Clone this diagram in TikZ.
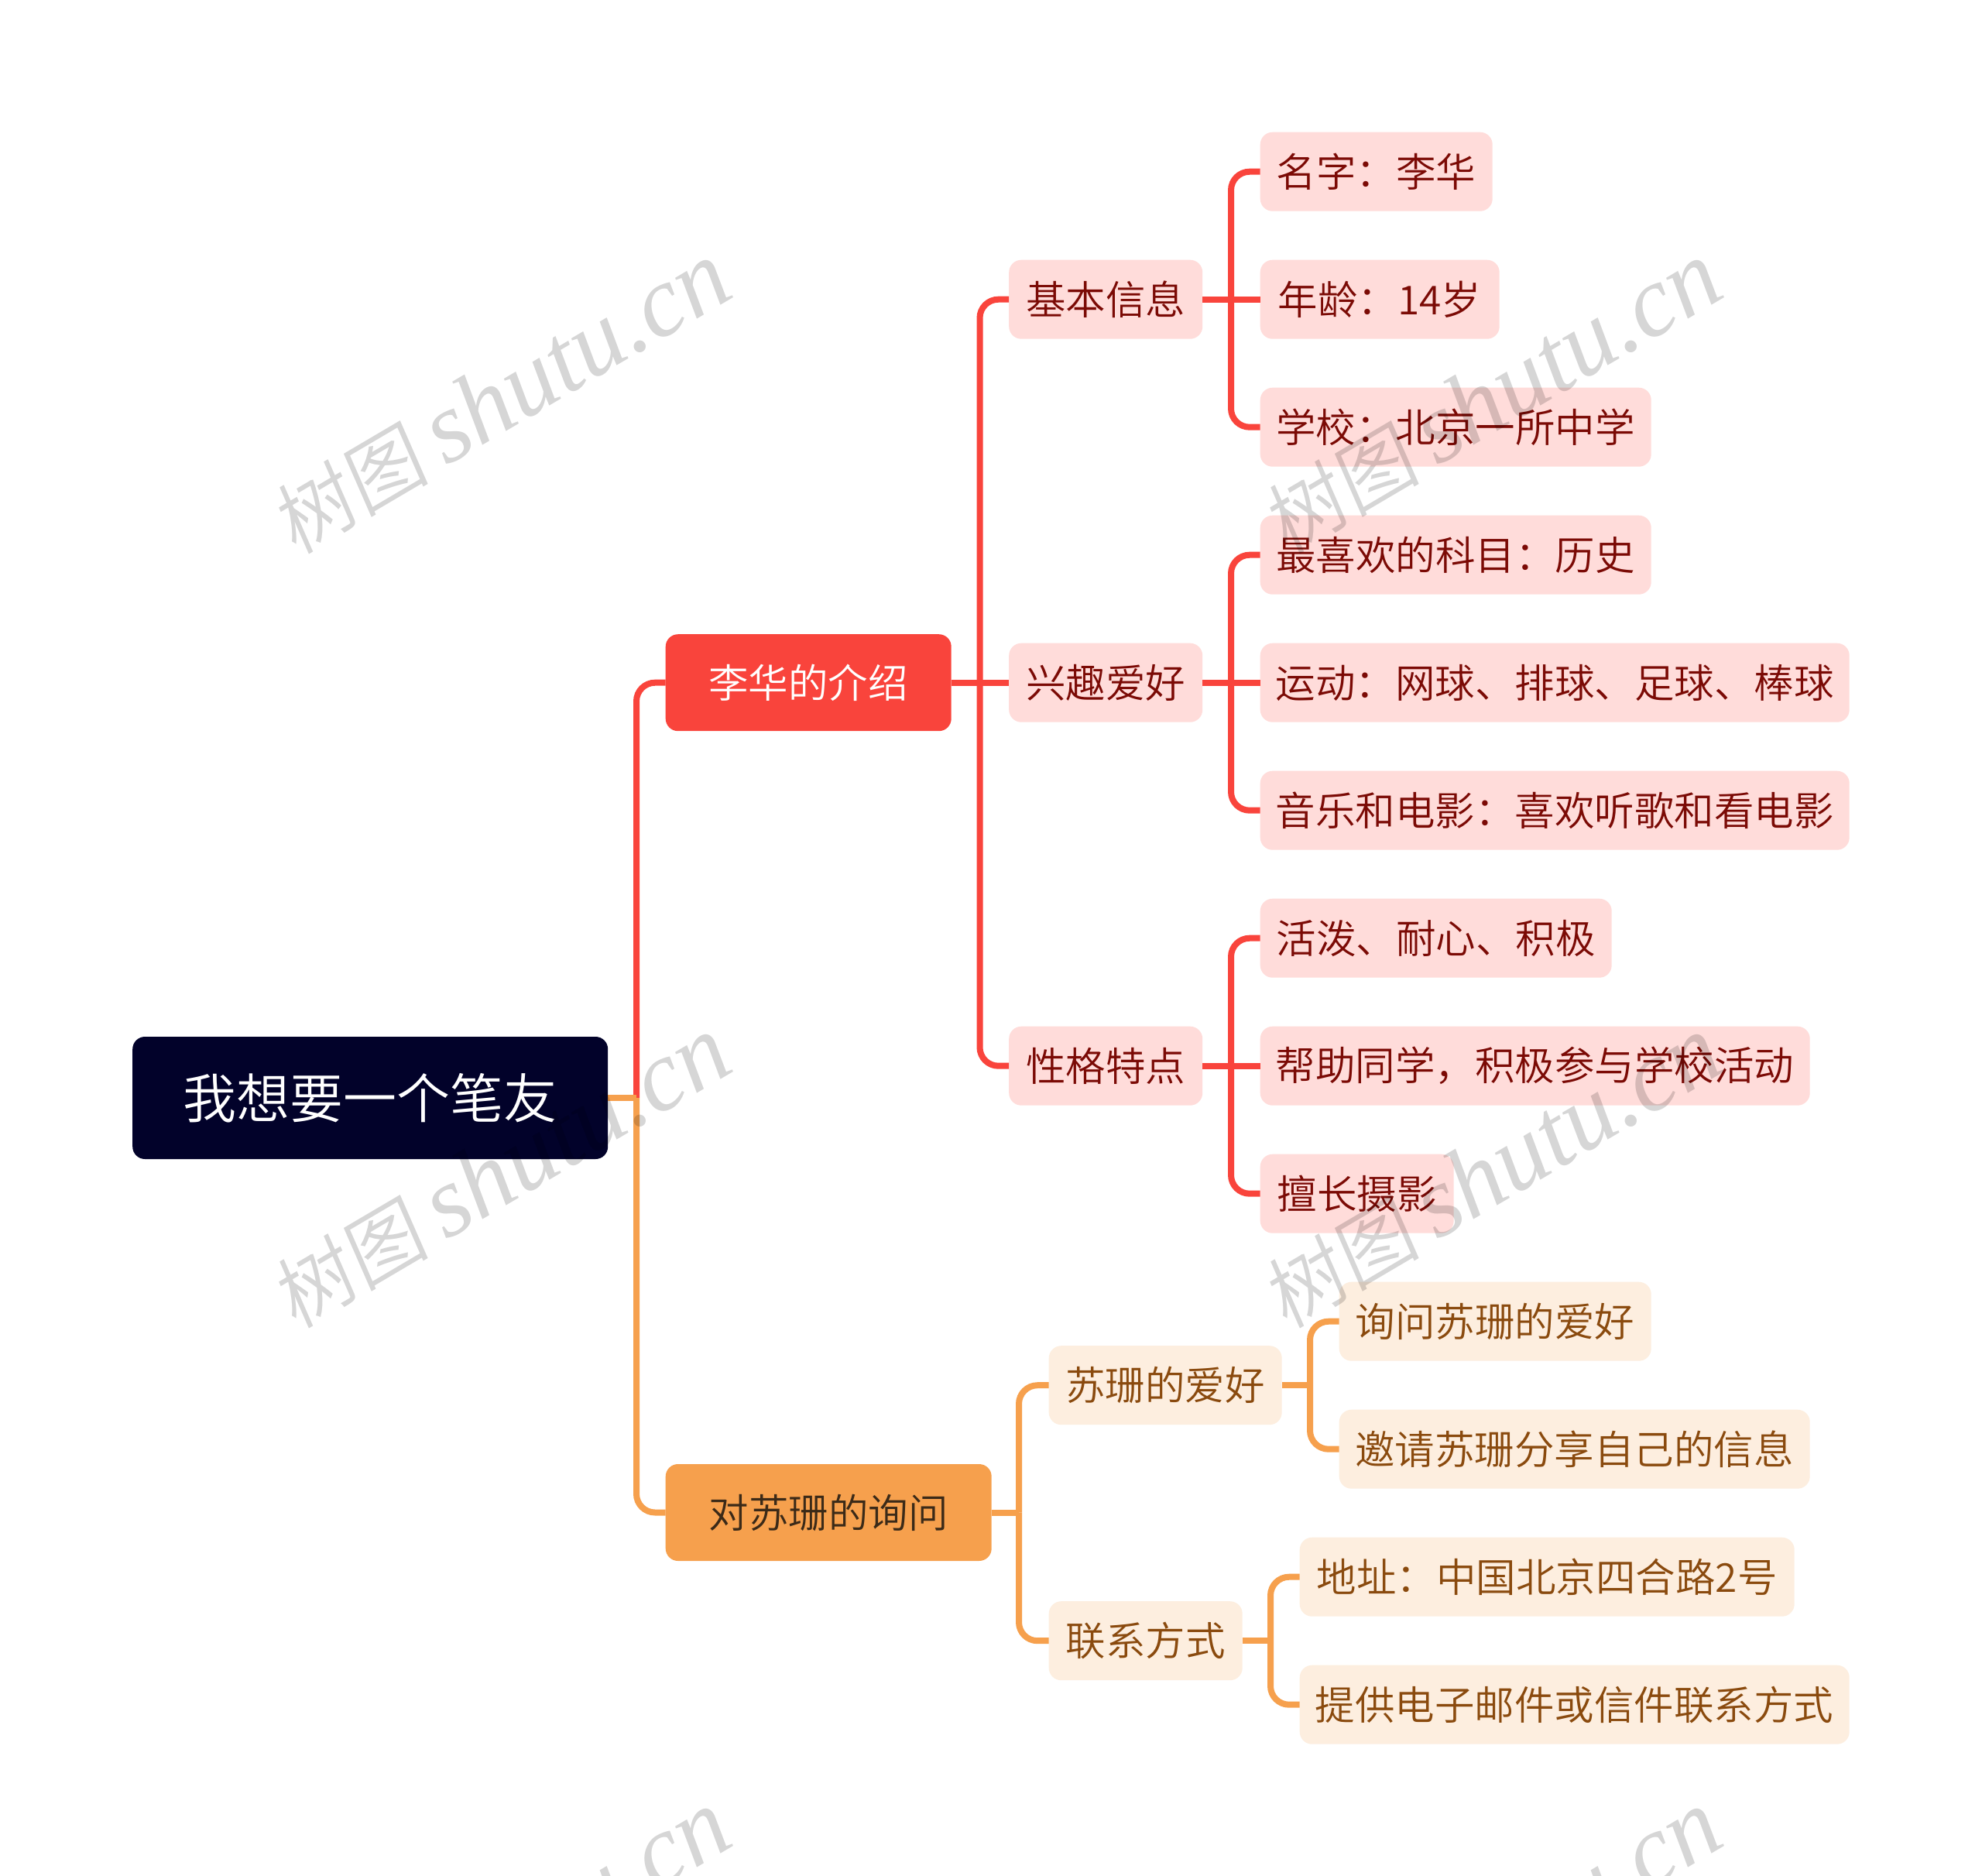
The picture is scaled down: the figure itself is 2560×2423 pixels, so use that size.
\documentclass[tikz,border=0pt]{standalone}
\usepackage{fontspec}
\setmainfont{Noto Sans CJK SC DemiLight}
\newfontfamily\wmcjk[FakeSlant=0.12]{Noto Sans CJK SC DemiLight}
\newfontfamily\wmlat{Liberation Serif Italic}
\definecolor{rootfill}{HTML}{02022A}
\definecolor{redline}{HTML}{F9443C}
\definecolor{redlight}{HTML}{FFDCDA}
\definecolor{redtext}{HTML}{7B0A05}
\definecolor{orline}{HTML}{F6A04D}
\definecolor{orlight}{HTML}{FDEEDF}
\definecolor{ortext}{HTML}{8A4A0E}
\definecolor{ordark}{HTML}{3B2A18}
\tikzset{
  box/.style={anchor=west,inner sep=0pt,rounded corners=16pt,align=center,font=\fontsize{51.5}{56}\selectfont},
  rootbox/.style={box,fill=rootfill,text=white,minimum height=158pt,font=\fontsize{69}{74}\selectfont},
  redmain/.style={box,fill=redline,text=white,minimum height=125pt},
  ormain/.style={box,fill=orline,text=ordark,minimum height=125pt},
  redsub/.style={box,fill=redlight,text=redtext,minimum height=102pt},
  orsub/.style={box,fill=orlight,text=ortext,minimum height=102pt},
  redlink/.style={draw=redline,line width=8pt,rounded corners=24pt},
  orlink/.style={draw=orline,line width=8pt,rounded corners=24pt},
  wmark/.style={rotate=30.5,text=black,text opacity=.16,inner sep=0pt}
}
\begin{document}
\begin{tikzpicture}[x=1pt,y=-1pt]
\useasboundingbox[fill=white] (0,0) rectangle (2560,2423);
% nodes
\node[rootbox,minimum width=614pt] (root) at (171,1418) {我想要一个笔友};
\node[redmain,minimum width=369pt] (a) at (859.5,881.7) {李华的介绍};
\node[ormain,minimum width=421pt] (b) at (859.5,1953.5) {对苏珊的询问};
\node[redsub,minimum width=250pt] (a1) at (1303,386.7) {基本信息};
\node[redsub,minimum width=250pt] (a2) at (1303,881.7) {兴趣爱好};
\node[redsub,minimum width=250pt] (a3) at (1303,1376.7) {性格特点};
\node[orsub,minimum width=301pt] (b1) at (1354.5,1789.2) {苏珊的爱好};
\node[orsub,minimum width=250pt] (b2) at (1354.5,2119.2) {联系方式};
\node[redsub,minimum width=300pt] (c1) at (1627.5,221.7) {名字：李华};
\node[redsub,minimum width=309pt] (c2) at (1627.5,386.7) {年龄：14岁};
\node[redsub,minimum width=505pt] (c3) at (1627.5,551.7) {学校：北京一所中学};
\node[redsub,minimum width=505pt] (c4) at (1627.5,716.7) {最喜欢的科目：历史};
\node[redsub,minimum width=761pt] (c5) at (1627.5,881.7) {运动：网球、排球、足球、棒球};
\node[redsub,minimum width=761pt] (c6) at (1627.5,1046.7) {音乐和电影：喜欢听歌和看电影};
\node[redsub,minimum width=454pt] (c7) at (1627.5,1211.7) {活泼、耐心、积极};
\node[redsub,minimum width=710pt] (c8) at (1627.5,1376.7) {帮助同学，积极参与学校活动};
\node[redsub,minimum width=250pt] (c9) at (1627.5,1541.7) {擅长摄影};
\node[orsub,minimum width=403pt] (d1) at (1729.5,1706.7) {询问苏珊的爱好};
\node[orsub,minimum width=608pt] (d2) at (1729.5,1871.7) {邀请苏珊分享自己的信息};
\node[orsub,minimum width=639pt] (d3) at (1678.5,2036.7) {地址：中国北京四合路2号};
\node[orsub,minimum width=710pt] (d4) at (1678.5,2201.7) {提供电子邮件或信件联系方式};
% junctions
\coordinate (t0) at (822,1418);
\coordinate (ta) at (1265.5,881.7);
\coordinate (tb) at (1316,1953.5);
\coordinate (ta1) at (1590,386.7);
\coordinate (ta2) at (1590,881.7);
\coordinate (ta3) at (1590,1376.7);
\coordinate (tb1) at (1692,1789.2);
\coordinate (tb2) at (1641,2119.2);
% connectors
\draw[redlink] (t0) |- (a.west);
\draw[orlink] (root.east) -- (t0);
\draw[orlink] (t0) |- (b.west);
\draw[redlink] (a.east) -- (ta);
\draw[redlink] (ta) |- (a1.west);
\draw[redlink] (ta) -- (a2.west);
\draw[redlink] (ta) |- (a3.west);
\draw[orlink] (b.east) -- (tb);
\draw[orlink] (tb) |- (b1.west);
\draw[orlink] (tb) |- (b2.west);
\draw[redlink] (a1.east) -- (ta1);
\draw[redlink] (ta1) |- (c1.west);
\draw[redlink] (ta1) -- (c2.west);
\draw[redlink] (ta1) |- (c3.west);
\draw[redlink] (a2.east) -- (ta2);
\draw[redlink] (ta2) |- (c4.west);
\draw[redlink] (ta2) -- (c5.west);
\draw[redlink] (ta2) |- (c6.west);
\draw[redlink] (a3.east) -- (ta3);
\draw[redlink] (ta3) |- (c7.west);
\draw[redlink] (ta3) -- (c8.west);
\draw[redlink] (ta3) |- (c9.west);
\draw[orlink] (b1.east) -- (tb1);
\draw[orlink] (tb1) |- (d1.west);
\draw[orlink] (tb1) |- (d2.west);
\draw[orlink] (b2.east) -- (tb2);
\draw[orlink] (tb2) |- (d3.west);
\draw[orlink] (tb2) |- (d4.west);
% watermark
\foreach \wx/\wy [count=\wi] in {646/514,1926/514,646/1514,1926/1514,646/2514,1926/2514}{
  \node[wmark] (wm\wi) at (\wx,\wy) {{\wmcjk\fontsize{102}{110}\selectfont 树图}\hspace{22pt}{\wmlat\fontsize{130}{132}\selectfont shutu.cn}};
}
\end{tikzpicture}
\end{document}
